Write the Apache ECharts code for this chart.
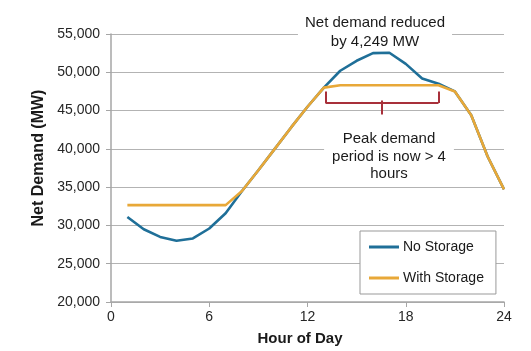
<!DOCTYPE html>
<html>
<head>
<meta charset="utf-8">
<script src="https://cdn.jsdelivr.net/npm/echarts@6/dist/echarts.min.js"></script>
<style>
  html, body { margin: 0; padding: 0; background: #fff; }
  #chart { width: 531px; height: 351px; }
</style>
</head>
<body>
<div id="chart"></div>
<script>
var hours = [1, 2, 3, 4, 5, 6, 7, 8, 9, 10, 11, 12, 13, 14, 15, 16, 17, 18, 19, 20, 21, 22, 23, 24];
var noStorage = [31100, 29500, 28500, 28000, 28300, 29600, 31600, 34500, 37200, 40000, 42800, 45500,
                 48000, 50200, 51500, 52500, 52550, 51100, 49200, 48500, 47500, 44400, 39000, 34700];
var withStorage = [32650, 32650, 32650, 32650, 32650, 32650, 32650, 34500, 37200, 40000, 42800, 45500,
                   48000, 48300, 48300, 48300, 48300, 48300, 48300, 48300, 47500, 44400, 39000, 34700];
var yTicks = [20000, 25000, 30000, 35000, 40000, 45000, 50000, 55000];
var xTicks = [0, 6, 12, 18, 24];

// bracket under the flattened peak (hour / MW)
var bracketFrom = 13.1, bracketTo = 20, bracketMid = 16.55;
var bracketTop = 47500, bracketBar = 46000, bracketTip = 44500;

function pairs(list, ys) {
    return list.map(function (h, i) { return [h, ys[i]]; });
}

var font = 'Liberation Sans, Arial, sans-serif';

var option = {
    animation: false,
    grid: { left: 111, right: 27, top: 34, bottom: 48 },
    xAxis: {
        type: 'value',
        min: xTicks[0],
        max: xTicks[xTicks.length - 1],
        interval: 6,
        name: 'Hour of Day',
        nameLocation: 'middle',
        nameGap: 29,
        nameTextStyle: { fontFamily: font, fontSize: 15, fontWeight: 'bold', color: '#1a1a1a', padding: [0, 15, 0, 0] },
        axisLine: { lineStyle: { color: '#a6a6a6', width: 1.5 } },
        axisTick: { show: true, length: 5, lineStyle: { color: '#a6a6a6' } },
        axisLabel: { fontFamily: font, fontSize: 14, color: '#262626', margin: 8 },
        splitLine: { show: false }
    },
    yAxis: {
        type: 'value',
        min: yTicks[0],
        max: yTicks[yTicks.length - 1],
        interval: 5000,
        name: 'Net Demand (MW)',
        nameLocation: 'middle',
        nameGap: 64,
        nameTextStyle: { fontFamily: font, fontSize: 16, fontWeight: 'bold', color: '#1a1a1a', padding: [0, 0, 0, 20] },
        axisLine: { show: true, lineStyle: { color: '#a6a6a6', width: 1.5 } },
        axisTick: { show: true, length: 5, lineStyle: { color: '#a6a6a6' } },
        axisLabel: {
            fontFamily: font, fontSize: 14, color: '#262626', margin: 11,
            formatter: function (v) { return v.toLocaleString('en-US'); }
        },
        splitLine: { lineStyle: { color: '#b3b3b3', width: 1 } }
    },
    legend: {
        orient: 'vertical',
        left: 360,
        top: 231,
        padding: [8, 12, 8, 9],
        icon: 'rect',
        itemWidth: 30,
        itemHeight: 3,
        itemGap: 15,
        backgroundColor: '#fff',
        borderColor: '#999',
        borderWidth: 1,
        textStyle: { fontFamily: font, fontSize: 14, color: '#1a1a1a', padding: [0, 0, 0, -1], lineHeight: 16 },
        data: ['No Storage', 'With Storage']
    },
    series: [
        {
            name: 'No Storage',
            type: 'line',
            data: pairs(hours, noStorage),
            showSymbol: false,
            symbol: 'none',
            lineStyle: { color: '#1f6f98', width: 2.6 },
            itemStyle: { color: '#1f6f98' }
        },
        {
            name: 'With Storage',
            type: 'line',
            data: pairs(hours, withStorage),
            showSymbol: false,
            symbol: 'none',
            lineStyle: { color: '#e8a838', width: 2.6 },
            itemStyle: { color: '#e8a838' },
            markLine: {
                silent: true,
                symbol: 'none',
                label: { show: false },
                lineStyle: { color: '#a8303a', width: 2, type: 'solid' },
                data: [
                    [{ coord: [bracketFrom, bracketTop] }, { coord: [bracketFrom, bracketBar] }],
                    [{ coord: [bracketFrom, bracketBar] }, { coord: [bracketTo, bracketBar] }],
                    [{ coord: [bracketTo, bracketBar] }, { coord: [bracketTo, bracketTop] }],
                    [{ coord: [bracketMid, bracketBar + 300] }, { coord: [bracketMid, bracketTip] }]
                ]
            }
        }
    ],
    graphic: [
        {
            type: 'text',
            x: 375,
            y: 13,
            z: 100,
            style: {
                text: 'Net demand reduced\nby 4,249 MW',
                font: '15px ' + font,
                fill: '#1a1a1a',
                textAlign: 'center',
                textVerticalAlign: 'top',
                lineHeight: 19,
                backgroundColor: '#fff',
                padding: [0, 7, 0, 7]
            }
        },
        {
            type: 'text',
            x: 389,
            y: 130,
            z: 100,
            style: {
                text: 'Peak demand\nperiod is now > 4\nhours',
                font: '15px ' + font,
                fill: '#1a1a1a',
                textAlign: 'center',
                textVerticalAlign: 'top',
                lineHeight: 17.7,
                backgroundColor: '#fff',
                padding: [0, 8, 0, 8]
            }
        }
    ]
};

var chart = echarts.init(document.getElementById('chart'), null, { renderer: 'canvas' });
chart.setOption(option);
</script>
</body>
</html>
